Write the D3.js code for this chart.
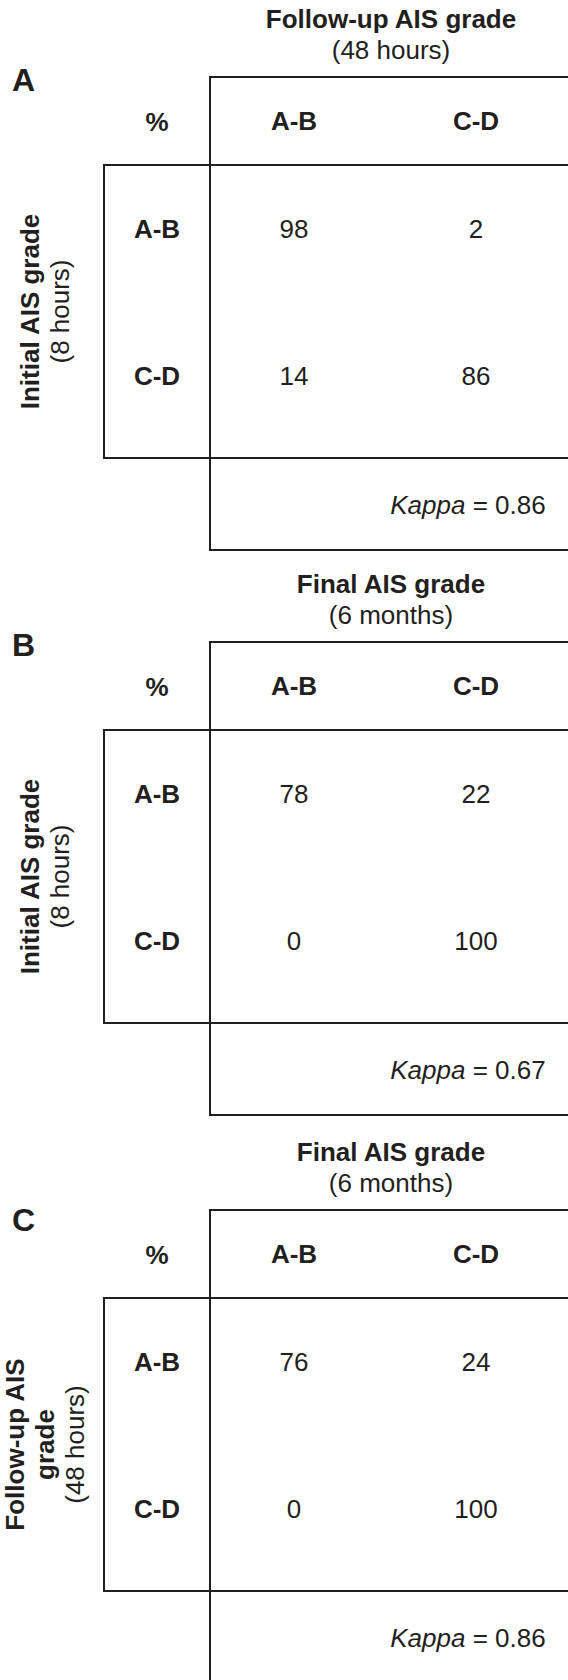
<!DOCTYPE html>
<html>
<head>
<meta charset="utf-8">
<script src="https://cdn.jsdelivr.net/npm/d3@7"></script>
<style>
  html, body { margin: 0; padding: 0; background: #fff; }
  svg { display: block; font-family: "Liberation Sans", Arial, Helvetica, sans-serif; }
</style>
</head>
<body>
<div id="chart"></div>
<script>
// chart values
const panelLetters = ['A', 'B', 'C']
const colTitles = ['Follow-up AIS grade', 'Final AIS grade', 'Final AIS grade']
const colSubtitles = ['(48 hours)', '(6 months)', '(6 months)']
const rowTitles = [['Initial AIS grade'], ['Initial AIS grade'], ['Follow-up AIS', 'grade']]
const rowSubtitles = ['(8 hours)', '(8 hours)', '(48 hours)']
const grades = ['A-B', 'C-D']
const percentA = [[98, 2], [14, 86]]
const percentB = [[78, 22], [0, 100]]
const percentC = [[76, 24], [0, 100]]
const kappas = [0.86, 0.67, 0.86]

const percents = [percentA, percentB, percentC]

// layout
const width = 568, height = 1680
const panelTops = [77, 642, 1210]
const letterDy = [14, 14, 21]
const ink = '#231f20'
const fs = 26

const svg = d3.select('#chart').append('svg')
  .attr('width', width)
  .attr('height', height)

const xCol = d3.scaleBand().domain(grades).range([203, 567])
const xDiv = 210, xLeft = 104
const headerH = 88, bodyH = 293, kappaH = 92

panelLetters.forEach((letter, i) => {
  const t = panelTops[i]
  const yRow = d3.scaleBand().domain(grades).range([t + headerH, t + headerH + bodyH])
  const g = svg.append('g').attr('class', 'panel')

  // grid lines
  const bodyBottom = t + headerH + bodyH
  const lines = [
    [xDiv, t, xDiv, bodyBottom + kappaH],
    [xDiv, t, width, t],
    [xLeft, t + headerH, width, t + headerH],
    [xLeft, t + headerH, xLeft, bodyBottom],
    [xLeft, bodyBottom, width, bodyBottom],
    [xDiv, bodyBottom + kappaH, width, bodyBottom + kappaH]
  ]
  g.selectAll('line')
    .data(lines)
    .join('line')
    .attr('x1', d => d[0]).attr('y1', d => d[1])
    .attr('x2', d => d[2]).attr('y2', d => d[3])
    .attr('stroke', ink)
    .attr('stroke-width', 2)
    .attr('stroke-linecap', 'square')

  // panel letter
  g.append('text')
    .attr('x', 12).attr('y', t + letterDy[i])
    .attr('font-size', 32).attr('font-weight', 'bold').attr('fill', ink)
    .text(letter)

  // column title
  g.append('text')
    .attr('x', 391).attr('y', t - 49)
    .attr('text-anchor', 'middle')
    .attr('font-size', fs).attr('font-weight', 'bold').attr('fill', ink)
    .text(colTitles[i])
  g.append('text')
    .attr('x', 391).attr('y', t - 18)
    .attr('text-anchor', 'middle')
    .attr('font-size', fs).attr('fill', ink)
    .text(colSubtitles[i])

  // corner
  g.append('text')
    .attr('x', 157).attr('y', t + 54)
    .attr('text-anchor', 'middle')
    .attr('font-size', fs).attr('font-weight', 'bold').attr('fill', ink)
    .text('%')

  // column headers
  g.selectAll('.colHead')
    .data(grades)
    .join('text')
    .attr('class', 'colHead')
    .attr('x', d => xCol(d) + xCol.bandwidth() / 2)
    .attr('y', t + 53)
    .attr('text-anchor', 'middle')
    .attr('font-size', fs).attr('font-weight', 'bold').attr('fill', ink)
    .text(d => d)

  // row headers
  g.selectAll('.rowHead')
    .data(grades)
    .join('text')
    .attr('class', 'rowHead')
    .attr('x', 157)
    .attr('y', d => yRow(d) + yRow.bandwidth() / 2)
    .attr('text-anchor', 'middle')
    .attr('font-size', fs).attr('font-weight', 'bold').attr('fill', ink)
    .text(d => d)

  // cell values
  const cells = percents[i].flatMap((row, r) => row.map((v, c) => ({ row: grades[r], col: grades[c], v })))
  g.selectAll('.cell')
    .data(cells)
    .join('text')
    .attr('class', 'cell')
    .attr('x', d => xCol(d.col) + xCol.bandwidth() / 2)
    .attr('y', d => yRow(d.row) + yRow.bandwidth() / 2)
    .attr('text-anchor', 'middle')
    .attr('font-size', fs).attr('fill', ink)
    .text(d => d.v)

  // kappa
  const k = g.append('text')
    .attr('x', 468).attr('y', bodyBottom + 56)
    .attr('text-anchor', 'middle')
    .attr('font-size', fs).attr('fill', ink)
  k.append('tspan').attr('font-style', 'italic').text('Kappa')
  k.append('tspan').text(' = ' + kappas[i].toFixed(2))

  // rotated row title
  const labelLines = rowTitles[i].map(s => ({ s, bold: true })).concat([{ s: rowSubtitles[i], bold: false }])
  const yc = t + headerH + bodyH / 2
  const n = labelLines.length
  g.selectAll('.rowTitle')
    .data(labelLines)
    .join('text')
    .attr('class', 'rowTitle')
    .attr('transform', (d, j) => `translate(${53.5 + (j - (n - 1) / 2) * 30},${yc}) rotate(-90)`)
    .attr('text-anchor', 'middle')
    .attr('font-size', fs)
    .attr('font-weight', d => d.bold ? 'bold' : 'normal')
    .attr('fill', ink)
    .text(d => d.s)
})
</script>
</body>
</html>
